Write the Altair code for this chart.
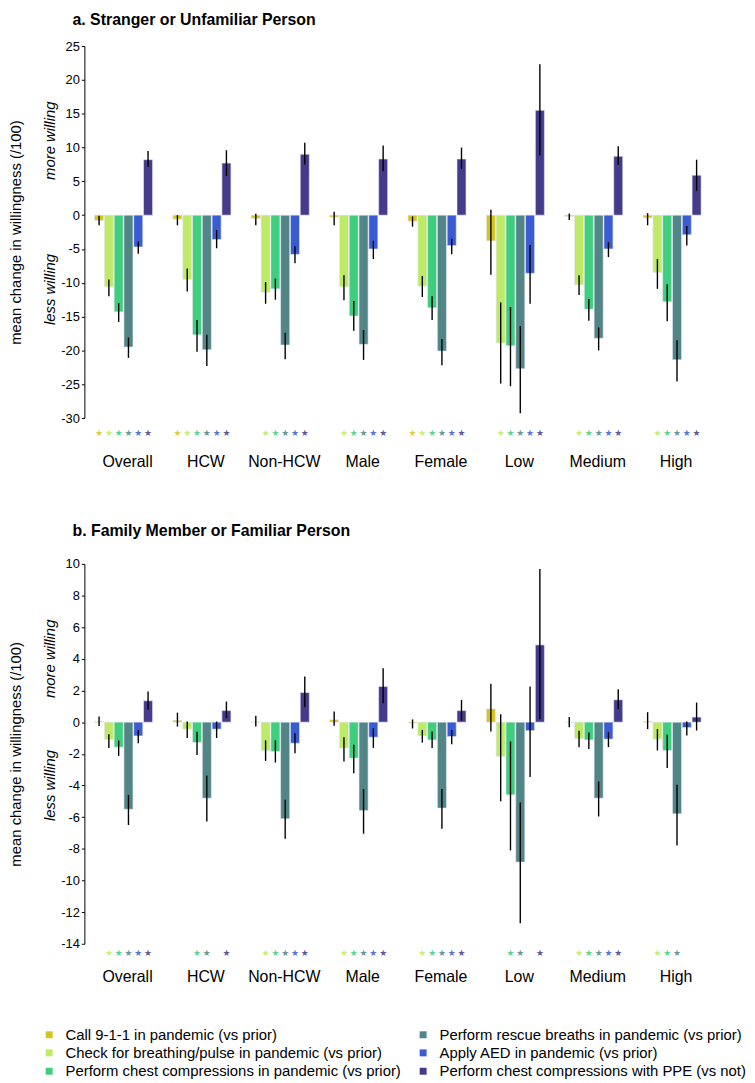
import altair as alt
import pandas as pd

FONT = "Liberation Sans"

groups = ["Overall", "HCW", "Non-HCW", "Male", "Female", "Low", "Medium", "High"]
series = [
    "Call 9-1-1 in pandemic (vs prior)",
    "Check for breathing/pulse in pandemic (vs prior)",
    "Perform chest compressions in pandemic (vs prior)",
    "Perform rescue breaths in pandemic (vs prior)",
    "Apply AED in pandemic (vs prior)",
    "Perform chest compressions with PPE (vs not)",
]
colors = ["#d4c51e", "#bfea68", "#3fcd7e", "#528585", "#3a5cd2", "#463b8b"]

# ---- Panel a: Stranger or Unfamiliar Person ----
call_a = [-0.8, -0.6, -0.5, -0.3, -0.9, -3.8, -0.2, -0.4]
call_a_lo = [-1.5, -1.5, -1.5, -1.5, -1.7, -8.8, -0.7, -1.5]
call_a_hi = [-0.1, 0.0, 0.2, 0.5, -0.2, 0.8, 0.25, 0.3]
check_a = [-10.6, -9.5, -11.4, -10.6, -10.5, -18.9, -10.3, -8.5]
check_a_lo = [-12.0, -11.3, -13.1, -12.6, -12.1, -24.9, -11.8, -10.9]
check_a_hi = [-9.5, -7.9, -9.9, -8.9, -9.0, -12.9, -8.9, -6.5]
comp_a = [-14.3, -17.7, -10.9, -14.9, -13.7, -19.3, -13.9, -12.8]
comp_a_lo = [-15.8, -20.2, -12.5, -17.1, -15.5, -25.3, -15.6, -15.7]
comp_a_hi = [-13.0, -15.5, -9.4, -12.7, -12.0, -13.6, -12.4, -10.2]
breath_a = [-19.5, -19.9, -19.2, -19.1, -20.1, -22.7, -18.2, -21.4]
breath_a_lo = [-21.1, -22.3, -21.3, -21.4, -22.2, -29.3, -20.0, -24.6]
breath_a_hi = [-18.1, -17.7, -17.4, -17.0, -18.3, -16.4, -16.6, -18.5]
aed_a = [-4.7, -3.6, -5.8, -5.0, -4.5, -8.6, -5.0, -2.9]
aed_a_lo = [-5.7, -4.9, -7.1, -6.5, -5.8, -13.1, -6.2, -4.5]
aed_a_hi = [-3.9, -2.2, -4.6, -3.8, -3.5, -4.4, -4.0, -1.6]
ppe_a = [8.2, 7.7, 9.0, 8.3, 8.3, 15.5, 8.7, 5.9]
ppe_a_lo = [7.1, 5.8, 7.5, 6.5, 6.8, 8.8, 7.4, 3.6]
ppe_a_hi = [9.5, 9.6, 10.7, 10.3, 10.0, 22.3, 10.2, 8.2]
sig_a = [
    [1, 1, 0, 0, 1, 0, 0, 0],
    [1, 1, 1, 1, 1, 1, 1, 1],
    [1, 1, 1, 1, 1, 1, 1, 1],
    [1, 1, 1, 1, 1, 1, 1, 1],
    [1, 1, 1, 1, 1, 1, 1, 1],
    [1, 1, 1, 1, 1, 1, 1, 1],
]

# ---- Panel b: Family Member or Familiar Person ----
call_b = [0.05, 0.12, 0.02, 0.15, -0.06, 0.84, 0.0, 0.05]
call_b_lo = [-0.25, -0.28, -0.28, -0.23, -0.4, -0.59, -0.32, -0.44]
call_b_hi = [0.35, 0.6, 0.4, 0.67, 0.17, 2.42, 0.32, 0.63]
check_b = [-1.1, -0.44, -1.79, -1.64, -0.87, -2.17, -1.05, -1.07]
check_b_lo = [-1.64, -1.0, -2.45, -2.49, -1.29, -5.0, -1.58, -1.79]
check_b_hi = [-0.76, 0.04, -1.15, -0.95, -0.49, 0.5, -0.55, -0.44]
comp_b = [-1.58, -1.28, -1.85, -2.27, -1.12, -4.59, -1.12, -1.79]
comp_b_lo = [-2.13, -2.07, -2.55, -3.22, -1.64, -8.1, -1.7, -2.9]
comp_b_hi = [-1.16, -0.6, -1.15, -1.43, -0.59, -1.22, -0.65, -0.8]
breath_b = [-5.5, -4.8, -6.1, -5.58, -5.43, -8.84, -4.8, -5.79]
breath_b_lo = [-6.5, -6.28, -7.37, -7.05, -6.74, -12.7, -5.96, -7.79]
breath_b_hi = [-4.6, -3.37, -4.9, -4.23, -4.23, -5.07, -3.75, -3.96]
aed_b = [-0.87, -0.44, -1.33, -0.95, -0.91, -0.53, -1.07, -0.34]
aed_b_lo = [-1.33, -1.0, -1.96, -1.62, -1.39, -3.47, -1.58, -0.85]
aed_b_hi = [-0.49, 0.04, -0.7, -0.38, -0.49, 2.25, -0.63, 0.04]
ppe_b = [1.35, 0.73, 1.87, 2.25, 0.73, 4.88, 1.41, 0.32]
ppe_b_lo = [0.78, 0.25, 0.95, 1.2, 0.1, 0.19, 0.82, -0.53]
ppe_b_hi = [1.93, 1.3, 2.88, 3.41, 1.41, 9.67, 2.08, 1.24]
sig_b = [
    [0, 0, 0, 0, 0, 0, 0, 0],
    [1, 0, 1, 1, 1, 0, 1, 1],
    [1, 1, 1, 1, 1, 1, 1, 1],
    [1, 1, 1, 1, 1, 1, 1, 1],
    [1, 0, 1, 1, 1, 0, 1, 0],
    [1, 1, 1, 1, 1, 1, 1, 0],
]

ticks_a = list(range(-30, 26, 5))
ticks_b = list(range(-14, 11, 2))


def build(vals, los, his, sigs, star_y):
    rows = []
    for s, v, lo, hi, sg in zip(series, vals, los, his, sigs):
        for g, a, b, c, d in zip(groups, v, lo, hi, sg):
            rows.append({"group": g, "series": s, "value": a, "lo": b, "hi": c,
                         "sig": d, "sy": star_y})
    return pd.DataFrame(rows)


df_a = build([call_a, check_a, comp_a, breath_a, aed_a, ppe_a],
             [call_a_lo, check_a_lo, comp_a_lo, breath_a_lo, aed_a_lo, ppe_a_lo],
             [call_a_hi, check_a_hi, comp_a_hi, breath_a_hi, aed_a_hi, ppe_a_hi],
             sig_a, -32.2)
df_b = build([call_b, check_b, comp_b, breath_b, aed_b, ppe_b],
             [call_b_lo, check_b_lo, comp_b_lo, breath_b_lo, aed_b_lo, ppe_b_lo],
             [call_b_hi, check_b_hi, comp_b_hi, breath_b_hi, aed_b_hi, ppe_b_hi],
             sig_b, -14.57)


def panel(df, title, domain, ticks, willing_y, height, label_pad, title_offset):
    yscale = alt.Scale(domain=domain, nice=False, zero=False)
    yaxis = alt.Axis(values=ticks, title="mean change in willingness (/100)",
                     titleFontSize=15, titleFontWeight="normal", titleFont=FONT,
                     titleColor="black", titlePadding=38, labelFontSize=13,
                     labelFont=FONT, labelColor="black", labelPadding=2, tickSize=3,
                     tickColor="black", domainColor="black", grid=False,
                     labelOverlap=False, labelSeparation=0, labelBound=False,
                     labelExpr="'' + datum.value")
    x = alt.X("group:N", sort=groups,
              scale=alt.Scale(paddingInner=0.25, paddingOuter=0.125),
              axis=alt.Axis(title=None, domain=False, ticks=False, labelAngle=0,
                            labelFontSize=16, labelFont=FONT, labelColor="black",
                            labelPadding=label_pad, labelOffset=4))
    xo = alt.XOffset("series:N", sort=series,
                     scale=alt.Scale(paddingInner=0.08, paddingOuter=0.04))
    color = alt.Color("series:N",
                      scale=alt.Scale(domain=series, range=colors),
                      legend=alt.Legend(orient="none", legendX=-43, legendY=989,
                                        columns=2, title=None, symbolType="square",
                                        symbolSize=49, labelFontSize=15, labelFont=FONT,
                                        labelColor="black", columnPadding=14,
                                        rowPadding=2.5, labelOffset=9,
                                        symbolStrokeWidth=0, padding=0, labelLimit=0))
    base = alt.Chart(df)
    bars = base.mark_bar(stroke="#e6e6f6", strokeWidth=0.6).encode(
        x=x, xOffset=xo,
        y=alt.Y("value:Q", scale=yscale, axis=yaxis),
        y2=alt.datum(0),
        color=color,
    )
    errs = base.mark_rule(color="black", strokeWidth=1.4).encode(
        x=x, xOffset=xo, y=alt.Y("lo:Q", scale=yscale, axis=yaxis), y2="hi:Q"
    )
    stars = base.transform_filter("datum.sig == 1").mark_text(
        text="★", fontSize=9, baseline="middle", opacity=0.85, font="DejaVu Sans"
    ).encode(x=x, xOffset=xo, y=alt.Y("sy:Q", scale=yscale, axis=yaxis), color=color)
    wdf = pd.DataFrame({"t": ["more willing", "less willing"], "v": willing_y})
    willing = alt.Chart(wdf).mark_text(
        angle=270, fontStyle="italic", fontSize=15, font=FONT, color="black",
        baseline="middle", align="center"
    ).encode(x=alt.value(-35), y=alt.Y("v:Q", scale=yscale, axis=yaxis), text="t:N")
    return alt.layer(bars, errs, stars, willing).properties(
        width=632, height=height,
        title=alt.TitleParams(title, anchor="start", frame="group", dx=-12,
                              fontSize=16, fontWeight="bold", font=FONT,
                              color="black", offset=title_offset),
    )


pa = panel(df_a, "a. Stranger or Unfamiliar Person", [-30, 25], ticks_a,
           [11, -11], 375, 36, 12)
pb = panel(df_b, "b. Family Member or Familiar Person", [-14, 10], ticks_b,
           [4, -4], 383, 25, 19)

chart = alt.vconcat(pa, pb, spacing=54).properties(padding=0).configure_view(
    stroke=None
).configure_axis(labelOverlap=False).resolve_scale(color="shared")

chart.save("out.html", embed_options={"renderer": "svg", "actions": False})
